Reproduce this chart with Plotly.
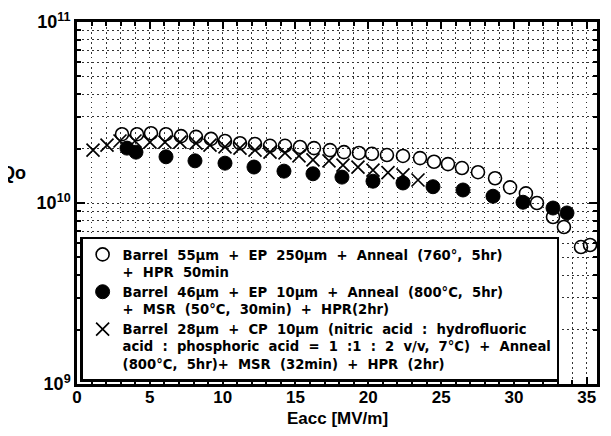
import plotly.graph_objects as go

# Open circles: Barrel 55um + EP 250um
ep_x = [3.09, 4.12, 5.08, 6.11, 7.14, 8.17, 9.20, 10.16, 11.19, 12.22, 13.25, 14.28,
        15.31, 16.27, 17.37, 18.33, 19.36, 20.25, 21.28, 22.38, 23.55, 24.51, 25.47,
        26.43, 27.53, 28.70, 29.73, 30.82, 31.58, 32.68, 33.43, 34.60, 35.22]
ep_q = [2.40e10, 2.40e10, 2.43e10, 2.40e10, 2.34e10, 2.32e10, 2.26e10, 2.20e10,
        2.14e10, 2.12e10, 2.07e10, 2.07e10, 2.04e10, 2.01e10, 1.96e10, 1.91e10,
        1.89e10, 1.87e10, 1.84e10, 1.82e10, 1.77e10, 1.69e10, 1.64e10, 1.56e10,
        1.48e10, 1.37e10, 1.22e10, 1.13e10, 1.00e10, 8.37e9, 7.37e9, 5.71e9, 5.86e9]

# Filled circles: Barrel 46um + EP 10um
msr_x = [3.43, 4.05, 6.11, 8.10, 10.16, 12.15, 14.21, 16.20, 18.19, 20.32, 22.38,
         24.44, 26.50, 28.56, 30.62, 32.68, 33.64]
msr_q = [2.01e10, 1.91e10, 1.80e10, 1.71e10, 1.66e10, 1.58e10, 1.50e10, 1.45e10,
         1.39e10, 1.32e10, 1.29e10, 1.23e10, 1.18e10, 1.09e10, 1.01e10, 9.38e9, 8.81e9]

# Crosses: Barrel 28um + CP 10um
cp_x = [1.10, 2.06, 2.95, 3.98, 5.01, 6.04, 7.07, 8.17, 9.13, 10.16, 11.19, 12.22,
        13.25, 14.28, 15.24, 16.20, 17.30, 18.26, 19.29, 20.32, 21.35, 22.38, 23.41]
cp_q = [1.96e10, 2.09e10, 2.20e10, 2.20e10, 2.17e10, 2.17e10, 2.17e10, 2.14e10,
        2.09e10, 2.04e10, 2.01e10, 1.96e10, 1.91e10, 1.89e10, 1.82e10, 1.73e10,
        1.71e10, 1.62e10, 1.58e10, 1.52e10, 1.47e10, 1.43e10, 1.34e10]

names = [
    "Barrel  55\u00b5m  +  EP  250\u00b5m  +  Anneal  (760\u00b0,  5hr)<br>+  HPR  50min",
    "Barrel  46\u00b5m  +  EP  10\u00b5m  +  Anneal  (800\u00b0C,  5hr)<br>+  MSR  (50\u00b0C,  30min)  +  HPR(2hr)",
    "Barrel  28\u00b5m  +  CP  10\u00b5m  (nitric  acid  :  hydrofluoric<br>acid  :  phosphoric  acid  =  1  :1  :  2  v/v,  7\u00b0C)  +  Anneal<br>(800\u00b0C,  5hr)+  MSR  (32min)  +  HPR  (2hr)",
]

x_ticks = [0, 5, 10, 15, 20, 25, 30, 35]
y_ticks = [1e9, 1e10, 1e11]
y_ticktext = ["10<sup>9</sup>", "10<sup>10</sup>", "10<sup>11</sup>"]
y_minor = [m * 10 ** e for e in (9, 10) for m in range(2, 10)]

FONT = "Liberation Sans, Arial, Helvetica, sans-serif"
LEG_FONT = "DejaVu Sans, Liberation Sans, sans-serif"

fig = go.Figure()
fig.add_trace(go.Scatter(
    x=cp_x, y=cp_q, mode="markers", name=names[2],
    marker=dict(symbol="x-thin-open", size=13, color="black",
                line=dict(color="black", width=1.7)),
))
fig.add_trace(go.Scatter(
    x=msr_x, y=msr_q, mode="markers", name=names[1],
    marker=dict(symbol="circle", size=14, color="black",
                line=dict(color="black", width=1)),
))
fig.add_trace(go.Scatter(
    x=ep_x, y=ep_q, mode="markers", name=names[0],
    marker=dict(symbol="circle-open", size=13, color="black",
                line=dict(color="black", width=1.6)),
))

grid_dash = "1.5px,3.5px"
grid_col = "#333"
fig.update_layout(
    width=603, height=428,
    margin=dict(l=69, r=14, t=14, b=52, autoexpand=False),
    paper_bgcolor="white", plot_bgcolor="white",
    font=dict(family=FONT, color="black", size=13, weight="bold"),
    showlegend=True,
    legend=dict(
        x=0.006, y=0.006, xanchor="left", yanchor="bottom",
        bgcolor="white", bordercolor="black", borderwidth=2.5,
        font=dict(family=LEG_FONT, size=13.2, color="black", weight="bold"),
        traceorder="reversed", valign="top", itemwidth=30,
    ),
    xaxis=dict(
        range=[0, 35.7], tickmode="array", tickvals=x_ticks,
        showline=True, linecolor="black", linewidth=2.5, mirror="ticks",
        ticks="inside", ticklen=7, tickwidth=2, tickcolor="black",
        showgrid=True, gridcolor=grid_col, gridwidth=1, griddash=grid_dash,
        zeroline=False, ticklabelstandoff=-4,
        tickfont=dict(family=FONT, size=17, weight="bold"),
        minor=dict(dtick=1, ticks="inside", ticklen=4, tickwidth=1.5,
                   tickcolor="black", showgrid=True, gridcolor=grid_col,
                   gridwidth=1, griddash=grid_dash),
    ),
    yaxis=dict(
        type="log", range=[9, 11], tickmode="array", tickvals=y_ticks,
        ticktext=y_ticktext,
        showline=True, linecolor="black", linewidth=2.5, mirror="ticks",
        ticks="inside", ticklen=8, tickwidth=2, tickcolor="black",
        showgrid=True, gridcolor=grid_col, gridwidth=1, griddash=grid_dash,
        zeroline=False,
        tickfont=dict(family=FONT, size=18, weight="bold"),
        minor=dict(tickmode="array", tickvals=y_minor, ticks="inside",
                   ticklen=4, tickwidth=1.5, tickcolor="black",
                   showgrid=True, gridcolor=grid_col, gridwidth=1,
                   griddash=grid_dash),
    ),
    annotations=[
        dict(text="Qo", xref="paper", yref="paper", x=-0.094, y=0.583,
             xanchor="right", yanchor="middle", showarrow=False,
             font=dict(family=FONT, size=18, weight="bold")),
        dict(text="Eacc [MV/m]", xref="paper", yref="paper", x=0.5, y=-0.094,
             xanchor="center", yanchor="middle", showarrow=False,
             font=dict(family=FONT, size=17, weight="bold")),
    ],
)

fig.write_html("out.html")
